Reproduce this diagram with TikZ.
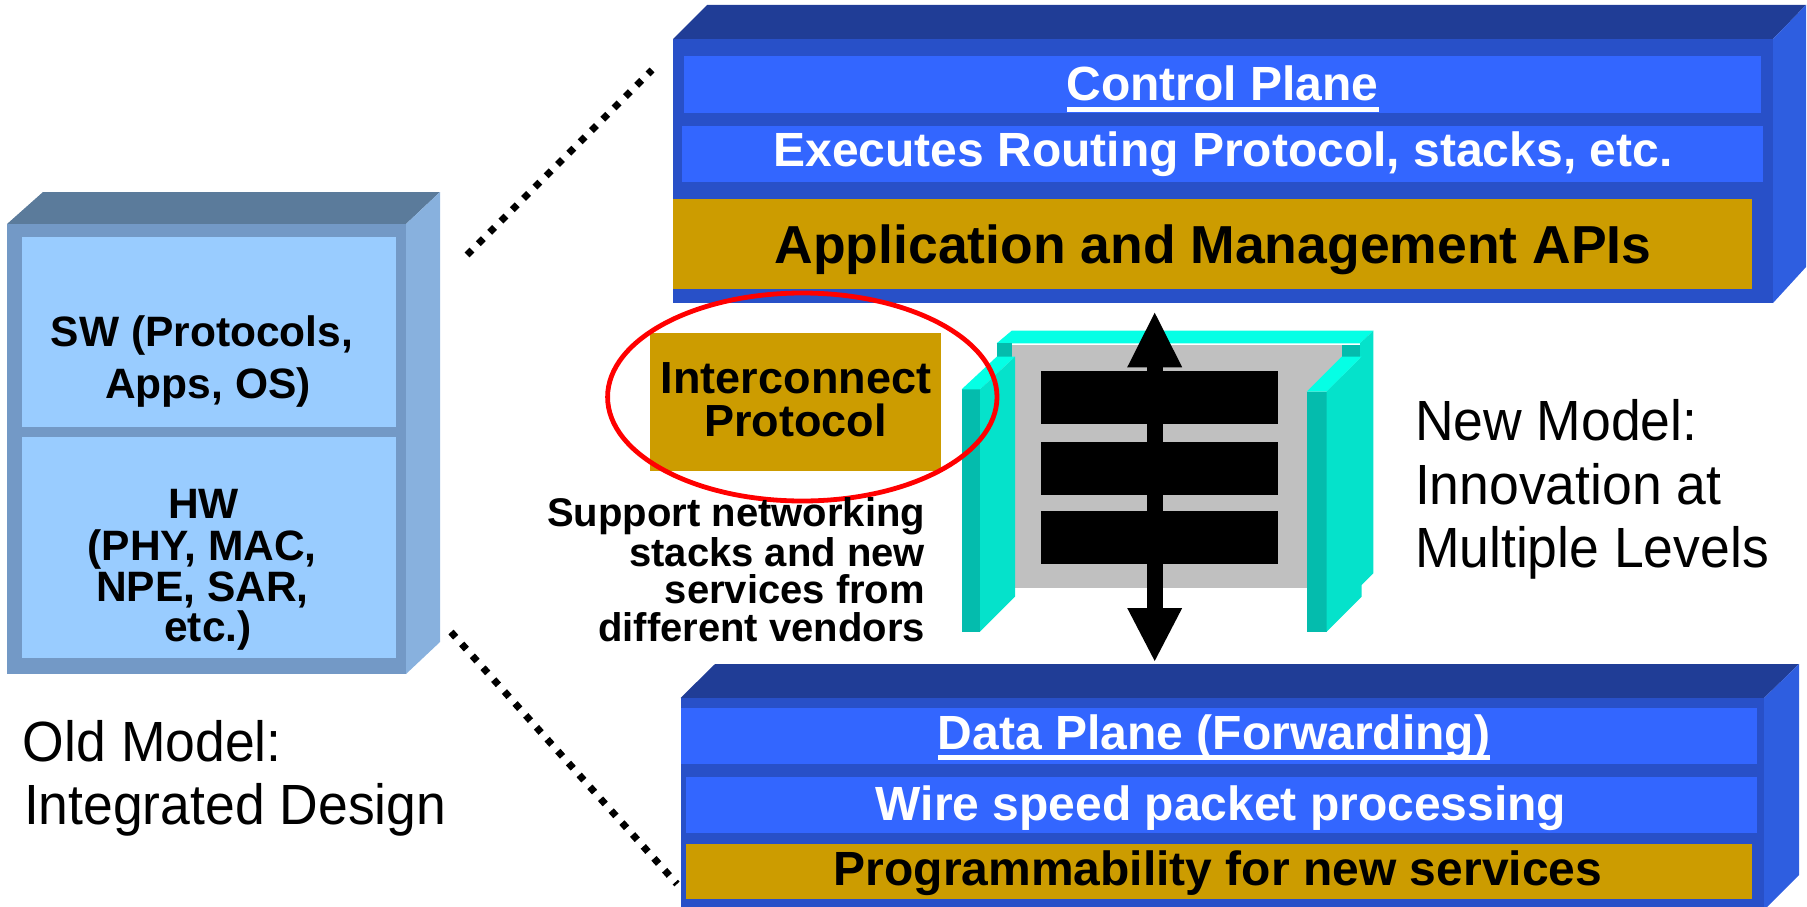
\documentclass[tikz,border=0pt]{standalone}
\usepackage{fontspec}
\setmainfont{Liberation Sans}
\usetikzlibrary{arrows.meta,calc}
\definecolor{oldfront}{HTML}{7399C6}
\definecolor{oldtop}{HTML}{5B7B9B}
\definecolor{oldside}{HTML}{88B1DE}
\definecolor{oldpanel}{HTML}{99CCFF}
\definecolor{nfront}{HTML}{2850C8}
\definecolor{ntop}{HTML}{203D96}
\definecolor{nside}{HTML}{2E5EE0}
\definecolor{nband}{HTML}{3366FF}
\definecolor{goldband}{HTML}{CC9C00}
\definecolor{cybright}{HTML}{05FFE5}
\definecolor{cyside}{HTML}{05E2CB}
\definecolor{cydark}{HTML}{04BCAD}
\definecolor{panelgray}{HTML}{C0C0C0}
\definecolor{ringred}{HTML}{FF0000}
\begin{document}
\begin{tikzpicture}[x=1pt,y=-1pt,
  txt/.style={anchor=base,inner sep=0pt,outer sep=0pt},
  wbig/.style={txt,text=white,font=\fontsize{48}{56}\selectfont\bfseries},
  bbig/.style={txt,text=black,font=\fontsize{48}{56}\selectfont\bfseries},
  oldtxt/.style={txt,text=black,font=\fontsize{42.5}{48}\selectfont\bfseries},
  sidetxt/.style={txt,anchor=base east,text=black,font=\fontsize{40}{46}\selectfont\bfseries},
  modeltxt/.style={txt,anchor=base west,text=black,font=\fontsize{53.5}{60}\selectfont},
  dotline/.style={black,line width=7pt,dash pattern=on 7pt off 9pt},
  uline/.style={fill=white}
]
\useasboundingbox (0,0) rectangle (1807,907);

% ---------------- Old model box ----------------
\fill[oldtop] (7,224) -- (43,192) -- (440,192) -- (406,224) -- cycle;
\fill[oldside] (406,224) -- (440,192) -- (440,642) -- (406,674) -- cycle;
\fill[oldfront] (7,224) rectangle (406,674);
\fill[oldpanel] (22,237) rectangle (396,427);
\fill[oldpanel] (22,437) rectangle (396,658);
\node[oldtxt] (sw1) at (202,346.7) {SW (Protocols,};
\node[oldtxt] (sw2) at (208,398.3) {Apps, OS)};
\node[oldtxt] (hw1) at (203.7,518.3) {HW};
\node[oldtxt] (hw2) at (202.3,560) {(PHY, MAC,};
\node[oldtxt] (hw3) at (202.5,601.7) {NPE, SAR,};
\node[oldtxt] (hw4) at (208,641.7) {etc.)};

% ---------------- dotted zoom lines ----------------
\coordinate (oldTR) at (467,255);
\coordinate (cpL) at (652,70);
\coordinate (oldBR) at (451,632);
\coordinate (dpL) at (677,884);
\draw[dotline] (oldTR) -- (cpL);
\draw[dotline] (oldBR) -- (dpL);

% ---------------- Control plane box ----------------
\fill[ntop] (673,39) -- (707,5) -- (1806,5) -- (1773,39) -- cycle;
\fill[nside] (1773,39) -- (1806,5) -- (1806,267) -- (1773,303) -- cycle;
\fill[nfront] (673,39) rectangle (1773,303);
\fill[nband] (684,56) rectangle (1761,113);
\fill[nband] (682,126) rectangle (1763,182);
\fill[goldband] (673,199) rectangle (1752,289);
\node[wbig] (cp) at (1222.5,100.7) {Control Plane};
\fill[uline] ($(cp.base west)+(0,6)$) rectangle ($(cp.base east)+(0,11)$);
\node[wbig] (exe) at (1223,166.7) {Executes Routing Protocol, stacks, etc.};
\node[bbig,font=\fontsize{53.5}{60}\selectfont\bfseries] (api) at (1213,263.3) {Application and Management APIs};

% ---------------- Data plane box ----------------
\fill[ntop] (680.5,698) -- (715,664) -- (1799,664) -- (1764,698) -- cycle;
\fill[nside] (1764,698) -- (1799,664) -- (1799,875) -- (1764,910) -- cycle;
\fill[nfront] (680.5,698) rectangle (1764,910);
\fill[nband] (680.5,708) rectangle (1757,764);
\fill[nband] (686,777) rectangle (1757,833);
\fill[goldband] (686,844) rectangle (1752,899);
\node[wbig] (dp) at (1214,749.3) {Data Plane (Forwarding)};
\fill[uline] ($(dp.base west)+(0,6)$) rectangle ($(dp.base east)+(0,11)$);
\node[wbig] (wire) at (1221,820) {Wire speed packet processing};
\node[bbig] (prog) at (1218,885) {Programmability for new services};

% ---------------- Interconnect chassis ----------------
\fill[cybright] (996.7,343.3) -- (1011.7,330.7) -- (1373.3,330.7) -- (1360,343.3) -- cycle;
\fill[cyside] (1360,343.3) -- (1373.3,330.7) -- (1373.3,573.3) -- (1361.7,585) -- (1360,585) -- cycle;
\fill[panelgray] (1011.7,345) rectangle (1342,588.3);
\fill[cydark] (996.7,343.3) rectangle (1011.7,356.7);
\fill[cydark] (1342,345) rectangle (1360,356.7);
% left pillar
\fill[cydark] (961.7,389.3) rectangle (980,631.7);
\fill[cybright] (961.7,389.3) -- (996.7,356.7) -- (1015,356.7) -- (980,389.3) -- cycle;
\fill[cyside] (980,389.3) -- (1015,356.7) -- (1015,596.7) -- (980,631.7) -- cycle;
% right pillar
\fill[cydark] (1306.7,391.7) rectangle (1326.7,631.7);
\fill[cybright] (1306.7,391.7) -- (1341.7,356.7) -- (1361.7,356.7) -- (1326.7,391.7) -- cycle;
\fill[cyside] (1326.7,391.7) -- (1361.7,356.7) -- (1361.7,596.7) -- (1326.7,631.7) -- cycle;
% slots
\fill[black] (1041,370.7) rectangle (1277.7,424);
\fill[black] (1041,441.7) rectangle (1277.7,495);
\fill[black] (1041,510.7) rectangle (1277.7,564);
% double arrow between planes
\coordinate (arTop) at (1154.7,312.7);
\coordinate (arBot) at (1154.7,661);
\draw[black,line width=16pt,
  {Triangle[length=54.6pt,width=55pt,line width=0pt]}-{Triangle[length=53pt,width=55pt,line width=0pt]}]
  (arTop) -- (arBot);

% ---------------- Interconnect protocol ----------------
\fill[goldband] (649.5,333) rectangle (940.8,470.7);
\node[txt,font=\fontsize{45}{52}\selectfont\bfseries] (ic1) at (796,393.3) {Interconnect};
\node[txt,font=\fontsize{45}{52}\selectfont\bfseries] (ic2) at (795.7,436) {Protocol};
\draw[ringred,line width=4.8pt] (802.3,397) ellipse [x radius=194.7, y radius=104];

\node[sidetxt] (s1) at (925,526.7) {Support networking};
\node[sidetxt] (s2) at (925,566) {stacks and new};
\node[sidetxt] (s3) at (925,603.3) {services from};
\node[sidetxt] (s4) at (925,641.7) {different vendors};

% ---------------- captions ----------------
\node[modeltxt] (om1) at (23,761) {\scalebox{1}[1.06]{Old Model:}};
\node[modeltxt] (om2) at (24,824) {\scalebox{1}[1.06]{Integrated Design}};
\node[modeltxt] (nm1) at (1415,440) {\scalebox{1}[1.06]{New Model:}};
\node[modeltxt] (nm2) at (1415,504) {\scalebox{1}[1.06]{Innovation at}};
\node[modeltxt] (nm3) at (1415,567) {\scalebox{1}[1.06]{Multiple Levels}};
\end{tikzpicture}
\end{document}
